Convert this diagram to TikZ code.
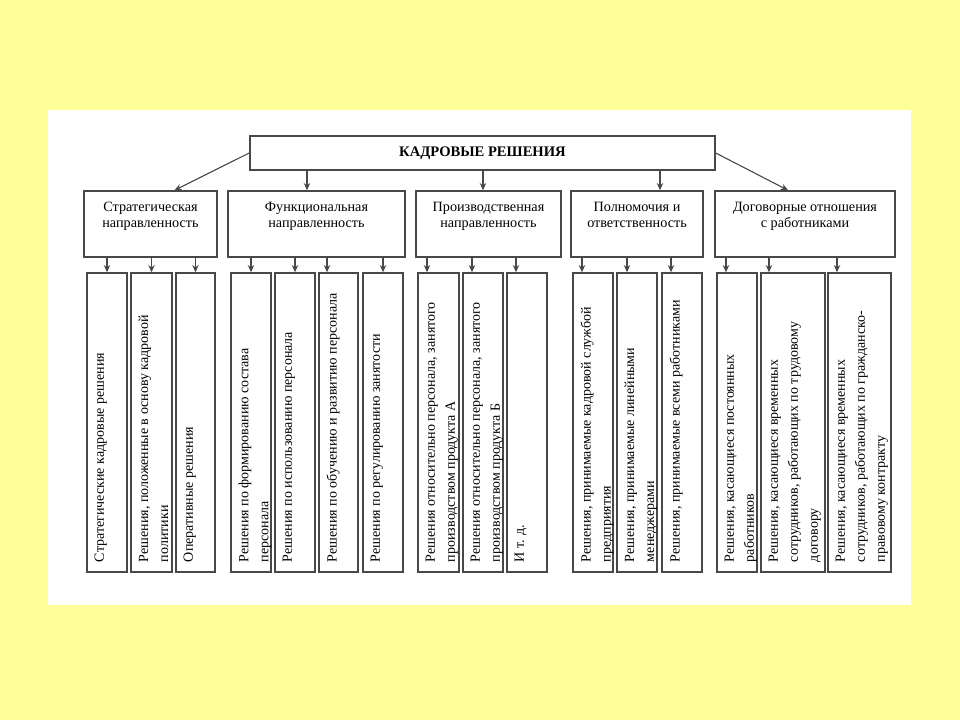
\documentclass[tikz,border=0pt]{standalone}
\usepackage{fontspec}
\setmainfont{Liberation Serif}
\usepackage{xcolor}
\usepackage{tikz}
\usetikzlibrary{arrows.meta, positioning}
\definecolor{slideyellow}{HTML}{FFFF99}
\definecolor{boxline}{HTML}{484848}
\tikzstyle{topbox} = [rectangle, draw=boxline, line width=0.75pt, fill=white,
    minimum width=232.5pt, minimum height=17pt,
    font=\fontsize{7.3}{9}\selectfont\bfseries]
\tikzstyle{group} = [rectangle, draw=boxline, line width=0.75pt, fill=white,
    inner sep=0pt, font=\fontsize{7.1}{8}\selectfont]
\tikzstyle{leaf} = [rectangle, draw=boxline, line width=0.75pt, fill=white,
    inner sep=0pt, rotate=90, font=\fontsize{7}{10}\selectfont]
\tikzstyle{arrow} = [-{Stealth[length=3.6pt, width=3.2pt]}, boxline, line width=0.55pt]
% box contents: width, text
\newcommand{\grouptext}[2]{\parbox[c][33pt][t]{#1}{\vspace*{5.5pt}\centering #2}}
\newcommand{\leaftext}[2]{\parbox[c][#1][t]{149.5pt}{\vspace*{3.8pt}\raggedright\leftskip=5pt #2}}

\begin{document}
\begin{tikzpicture}[x=0.5pt, y=-0.5pt]
    % slide
    \fill[slideyellow] (0,0) rectangle (960,720);
    \fill[white] (48,110) rectangle (911,605);

    % Root
    \node[topbox] (root) at (482.5,153) {КАДРОВЫЕ РЕШЕНИЯ};

    % Groups
    \node[group] (strat) at (150.5,224) {\grouptext{66.5pt}{Стратегическая\\направленность}};
    \node[group] (func) at (316.5,224) {\grouptext{88.5pt}{Функциональная\\направленность}};
    \node[group] (prod) at (488.5,224) {\grouptext{72.5pt}{Производственная\\направленность}};
    \node[group] (power) at (637,224) {\grouptext{66pt}{Полномочия и\\ответственность}};
    \node[group] (contract) at (805,224) {\grouptext{90pt}{Договорные отношения\\с работниками}};

    \draw[arrow] (root.west) -- ([xshift=12pt]strat.north);
    \draw[arrow] ([xshift=-4.75pt]func.north |- root.south) -- ([xshift=-4.75pt]func.north);
    \draw[arrow] ([xshift=-2.75pt]prod.north |- root.south) -- ([xshift=-2.75pt]prod.north);
    \draw[arrow] ([xshift=11.5pt]power.north |- root.south) -- ([xshift=11.5pt]power.north);
    \draw[arrow] (root.east) -- ([xshift=-8.5pt]contract.north);

    % Leaves
    \node[leaf] (s1) at (107,422.5) {\leaftext{20pt}{Стратегические кадровые решения}};
    \node[leaf] (s2) at (151.5,422.5) {\leaftext{20.5pt}{Решения, положенные в основу кадровой\\политики}};
    \node[leaf] (s3) at (195.5,422.5) {\leaftext{19.5pt}{Оперативные решения}};
    \node[leaf] (f1) at (251,422.5) {\leaftext{20pt}{Решения по формированию состава\\персонала}};
    \node[leaf] (f2) at (295,422.5) {\leaftext{20pt}{Решения по использованию персонала}};
    \node[leaf] (f3) at (338.5,422.5) {\leaftext{19.5pt}{Решения по обучению и развитию персонала}};
    \node[leaf] (f4) at (383,422.5) {\leaftext{20pt}{Решения по регулированию занятости}};
    \node[leaf] (p1) at (438.5,422.5) {\leaftext{20.5pt}{Решения относительно персонала, занятого\\производством продукта А}};
    \node[leaf] (p2) at (483,422.5) {\leaftext{20pt}{Решения относительно персонала, занятого\\производством продукта Б}};
    \node[leaf] (p3) at (527,422.5) {\leaftext{20pt}{И т. д.}};
    \node[leaf] (r1) at (593,422.5) {\leaftext{20pt}{Решения, принимаемые кадровой службой\\предприятия}};
    \node[leaf] (r2) at (637,422.5) {\leaftext{20pt}{Решения, принимаемые линейными\\менеджерами}};
    \node[leaf] (r3) at (682,422.5) {\leaftext{20pt}{Решения, принимаемые всеми работниками}};
    \node[leaf] (c1) at (737,422.5) {\leaftext{20pt}{Решения, касающиеся постоянных\\работников}};
    \node[leaf] (c2) at (793,422.5) {\leaftext{32pt}{Решения, касающиеся временных\\сотрудников, работающих по трудовому\\договору}};
    \node[leaf] (c3) at (859.5,422.5) {\leaftext{31.5pt}{Решения, касающиеся временных\\сотрудников, работающих по гражданско-\\правовому контракту}};

    \draw[arrow] (s1.east |- strat.south) -- (s1.east);
    \draw[arrow] (s2.east |- strat.south) -- (s2.east);
    \draw[arrow] (s3.east |- strat.south) -- (s3.east);
    \draw[arrow] (f1.east |- func.south) -- (f1.east);
    \draw[arrow] (f2.east |- func.south) -- (f2.east);
    \draw[arrow] ([xshift=-5.75pt]f3.east |- func.south) -- ([xshift=-5.75pt]f3.east);
    \draw[arrow] (f4.east |- func.south) -- (f4.east);
    \draw[arrow] ([xshift=-5.75pt]p1.east |- prod.south) -- ([xshift=-5.75pt]p1.east);
    \draw[arrow] ([xshift=-5.5pt]p2.east |- prod.south) -- ([xshift=-5.5pt]p2.east);
    \draw[arrow] ([xshift=-5.5pt]p3.east |- prod.south) -- ([xshift=-5.5pt]p3.east);
    \draw[arrow] ([xshift=-5.5pt]r1.east |- power.south) -- ([xshift=-5.5pt]r1.east);
    \draw[arrow] ([xshift=-5pt]r2.east |- power.south) -- ([xshift=-5pt]r2.east);
    \draw[arrow] ([xshift=-5.5pt]r3.east |- power.south) -- ([xshift=-5.5pt]r3.east);
    \draw[arrow] ([xshift=-5.5pt]c1.east |- contract.south) -- ([xshift=-5.5pt]c1.east);
    \draw[arrow] ([xshift=-12pt]c2.east |- contract.south) -- ([xshift=-12pt]c2.east);
    \draw[arrow] ([xshift=-11.25pt]c3.east |- contract.south) -- ([xshift=-11.25pt]c3.east);
\end{tikzpicture}
\end{document}
